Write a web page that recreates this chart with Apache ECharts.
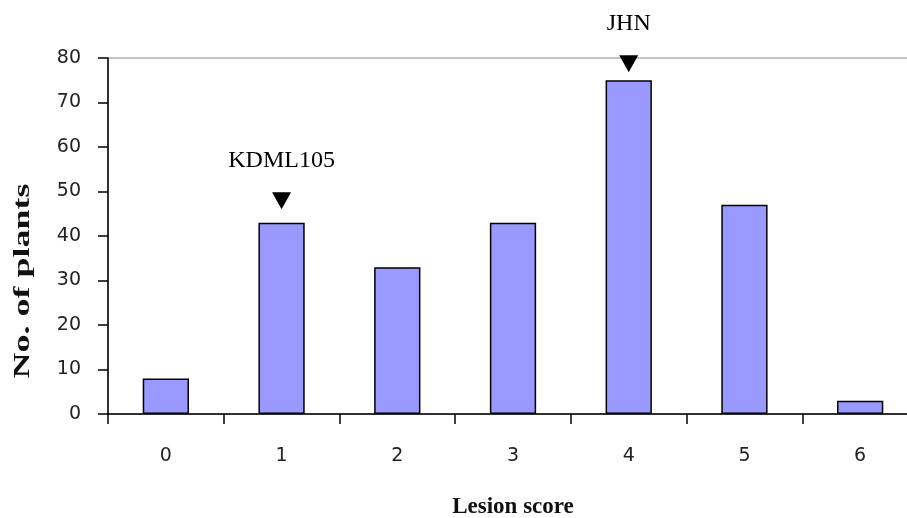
<!DOCTYPE html>
<html>
<head>
<meta charset="utf-8">
<script src="https://cdn.jsdelivr.net/npm/echarts@6/dist/echarts.min.js"></script>
<style>
  html, body { margin: 0; padding: 0; background: #fff; }
  #chart { width: 907px; height: 518px; }
</style>
</head>
<body>
<div id="chart"></div>
<script>
// lesion score categories and plant counts
const categories = ["0", "1", "2", "3", "4", "5", "6"];
const plantCounts = [8, 43, 33, 43, 75, 47, 3];

// parent variety markers (category index, y position, label)
const markerCats = [1, 4];
const markerY = [47.9, 78.7];
const markerNames = ["KDML105", "JHN"];

const yTicks = { min: 0, max: 80, interval: 10 };

const chart = echarts.init(document.getElementById("chart"));

const tickFont = {
  fontFamily: "DejaVu Sans",
  fontSize: 19,
  color: "#222"
};

chart.setOption({
  animation: false,
  grid: {
    left: 108,
    top: 58,
    right: -11,
    bottom: 104,
    outerBoundsMode: "none",
    show: true,
    borderColor: "#888",
    borderWidth: 1,
    backgroundColor: "transparent"
  },
  xAxis: {
    type: "category",
    data: categories,
    name: "Lesion score",
    nameLocation: "middle",
    nameGap: 82,
    nameTextStyle: {
      fontFamily: "Liberation Serif",
      fontWeight: "bold",
      fontSize: 23,
      color: "#111"
    },
    axisLine: { lineStyle: { color: "#000", width: 1.5 } },
    axisTick: { show: true, length: 10, lineStyle: { color: "#000", width: 1.5 } },
    axisLabel: Object.assign({ margin: 33 }, tickFont)
  },
  yAxis: {
    type: "value",
    min: yTicks.min,
    max: yTicks.max,
    interval: yTicks.interval,
    splitLine: { show: false },
    axisLine: { show: true, lineStyle: { color: "#000", width: 1.5 } },
    axisTick: { show: true, length: 10, lineStyle: { color: "#000", width: 1.5 } },
    axisLabel: Object.assign({ margin: 27 }, tickFont)
  },
  graphic: [
    {
      type: "text",
      x: 23,
      y: 281,
      rotation: Math.PI / 2,
      scaleX: 1.5,
      style: {
        text: "No. of plants",
        font: 'bold 24px "Liberation Serif"',
        fill: "#111",
        align: "center",
        verticalAlign: "middle"
      }
    }
  ],
  series: [
    {
      type: "bar",
      data: plantCounts,
      barWidth: "40%",
      itemStyle: {
        color: "#9999ff",
        borderColor: "#000",
        borderWidth: 1.5
      }
    },
    {
      type: "scatter",
      clip: false,
      symbol: "triangle",
      symbolRotate: 180,
      symbolSize: [19, 17],
      itemStyle: { color: "#000", opacity: 1 },
      data: markerCats.map((c, i) => ({
        value: [c, markerY[i]],
        name: markerNames[i]
      })),
      label: {
        show: true,
        position: "top",
        distance: 20,
        formatter: "{b}",
        fontFamily: "Liberation Serif",
        fontSize: 24,
        color: "#000"
      }
    }
  ]
});
</script>
</body>
</html>
